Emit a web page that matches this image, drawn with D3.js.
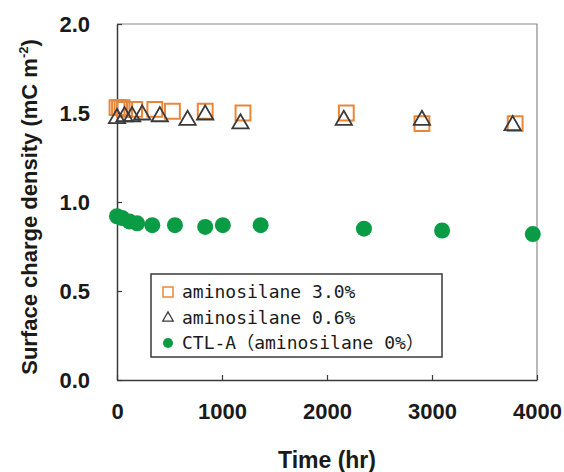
<!DOCTYPE html>
<html>
<head>
<meta charset="utf-8">
<script src="https://cdn.jsdelivr.net/npm/d3@7"></script>
<style>
  body { margin: 0; background: #fff; }
  svg { display: block; }
</style>
</head>
<body>
<svg id="chart" width="564" height="472"></svg>
<script>
// data (time in hr, charge density in mC m^-2)
const sqTime  = [0, 24, 48, 72, 168, 360, 528, 840, 1200, 2184, 2904, 3792];
const sqValue = [1.53, 1.53, 1.53, 1.52, 1.52, 1.52, 1.51, 1.51, 1.50, 1.50, 1.44, 1.44];

const triTime  = [0, 72, 144, 240, 408, 672, 840, 1176, 2160, 2904, 3768];
const triValue = [1.47, 1.48, 1.48, 1.49, 1.48, 1.46, 1.49, 1.44, 1.46, 1.46, 1.43];

const dotTime  = [0, 48, 120, 192, 336, 552, 840, 1008, 1368, 2352, 3096, 3960];
const dotValue = [0.92, 0.91, 0.89, 0.88, 0.87, 0.87, 0.86, 0.87, 0.87, 0.85, 0.84, 0.82];

const xTicks = [0, 1000, 2000, 3000, 4000];
const yTicks = [0, 0.5, 1.0, 1.5, 2.0];

const legendLabels = ["aminosilane 3.0%", "aminosilane 0.6%", "CTL-A（aminosilane 0%）"];

const orange = "#ea8638";
const green = "#0a9b45";
const dark = "#3a3a3a";
const labelFont = "Liberation Sans, Arial, sans-serif";

const svg = d3.select("#chart");

const x = d3.scaleLinear().domain([0, 4000]).range([117, 537]);
const y = d3.scaleLinear().domain([0, 2]).range([380, 24]);

// frame: top and right in light grey
svg.append("path")
  .attr("d", `M${x(0)},${y(2)}H${x(4000)}V${y(0)}`)
  .attr("fill", "none")
  .attr("stroke", "#8a8a8a")
  .attr("stroke-width", 1.2);

const xAxis = svg.append("g")
  .attr("transform", `translate(0,${y(0)})`)
  .call(d3.axisBottom(x).tickValues(xTicks).tickFormat(d3.format("d"))
    .tickSizeInner(-5).tickSizeOuter(0).tickPadding(23));

const yAxis = svg.append("g")
  .attr("transform", `translate(${x(0)},0)`)
  .call(d3.axisLeft(y).tickValues(yTicks).tickFormat(d3.format(".1f"))
    .tickSizeInner(-5).tickSizeOuter(0).tickPadding(27));

[xAxis, yAxis].forEach(g => {
  g.select(".domain").attr("stroke", dark).attr("stroke-width", 1.5);
  g.selectAll(".tick line").attr("stroke", dark).attr("stroke-width", 1.2);
  g.selectAll(".tick text")
    .attr("fill", "#1a1a1a")
    .style("font-family", labelFont)
    .style("font-weight", "bold")
    .style("font-size", "22px");
});

// axis titles
svg.append("text")
  .attr("x", 327)
  .attr("y", 468)
  .attr("text-anchor", "middle")
  .style("font-family", labelFont)
  .style("font-weight", "bold")
  .style("font-size", "23px")
  .attr("fill", "#1a1a1a")
  .text("Time (hr)");

const yTitle = svg.append("text")
  .attr("transform", "translate(37,207) rotate(-90)")
  .attr("text-anchor", "middle")
  .style("font-family", labelFont)
  .style("font-weight", "bold")
  .style("font-size", "22px")
  .attr("fill", "#1a1a1a");
yTitle.append("tspan").text("Surface charge density (mC m");
yTitle.append("tspan").attr("dy", -9).style("font-size", "13px").text("-2");
yTitle.append("tspan").attr("dy", 9).text(")");

// series
const square = d3.symbol().type(d3.symbolSquare).size(220);
const triangle = d3.symbol().type(d3.symbolTriangle).size(115);

svg.append("g").selectAll("path")
  .data(d3.zip(sqTime, sqValue))
  .join("path")
  .attr("d", square)
  .attr("transform", d => `translate(${x(d[0])},${y(d[1])})`)
  .attr("fill", "none")
  .attr("stroke", orange)
  .attr("stroke-width", 2);

svg.append("g").selectAll("path")
  .data(d3.zip(triTime, triValue))
  .join("path")
  .attr("d", triangle)
  .attr("transform", d => `translate(${x(d[0])},${y(d[1])})`)
  .attr("fill", "none")
  .attr("stroke", dark)
  .attr("stroke-width", 1.8);

svg.append("g").selectAll("circle")
  .data(d3.zip(dotTime, dotValue))
  .join("circle")
  .attr("cx", d => x(d[0]))
  .attr("cy", d => y(d[1]))
  .attr("r", 8)
  .attr("fill", green);

// legend
const legend = svg.append("g");
legend.append("rect")
  .attr("x", 151).attr("y", 274)
  .attr("width", 291).attr("height", 83)
  .attr("fill", "#fff")
  .attr("stroke", dark)
  .attr("stroke-width", 1.5);

const rowY = [292, 318, 343];
const rows = legend.selectAll("g.row")
  .data(legendLabels)
  .join("g")
  .attr("class", "row")
  .attr("transform", (d, i) => `translate(168,${rowY[i]})`);

rows.each(function(d, i) {
  const g = d3.select(this);
  if (i === 0) {
    g.append("rect").attr("x", -5).attr("y", -5).attr("width", 10).attr("height", 10)
      .attr("fill", "none").attr("stroke", orange).attr("stroke-width", 1.5);
  } else if (i === 1) {
    g.append("path").attr("d", d3.symbol().type(d3.symbolTriangle).size(48))
      .attr("fill", "none").attr("stroke", dark).attr("stroke-width", 1.3);
  } else {
    g.append("circle").attr("r", 5).attr("fill", green);
  }
  g.append("text")
    .attr("x", 14)
    .attr("dy", "0.36em")
    .style("font-family", "DejaVu Sans Mono, Noto Sans CJK JP, monospace")
    .style("font-size", "18px")
    .attr("fill", "#1a1a1a")
    .text(d);
});
</script>
</body>
</html>
